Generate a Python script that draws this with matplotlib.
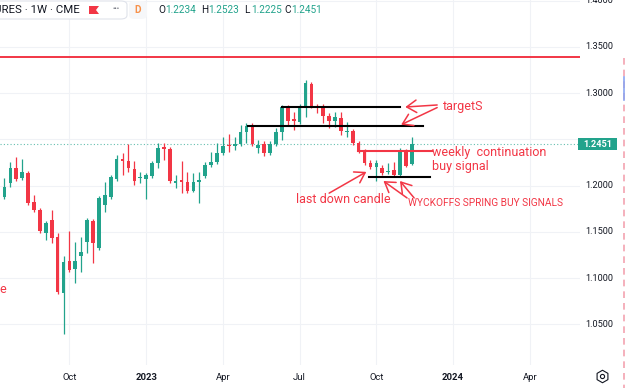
import matplotlib
matplotlib.use("Agg")
import matplotlib.pyplot as plt
from matplotlib.lines import Line2D
from matplotlib.patches import FancyBboxPatch, Polygon, Rectangle
from matplotlib.transforms import blended_transform_factory
import pandas as pd

plt.rcParams["font.family"] = ["Roboto", "DejaVu Sans"]

# weekly candles, British Pound futures (CME)
first_week = "2022-07-11"
opens = [1.2041, 1.1879, 1.2030, 1.2192, 1.2084, 1.2138, 1.1824, 1.1738, 1.1489, 1.1630,
         1.1446, 1.0841, 1.1187, 1.1100, 1.1241, 1.1392, 1.1619, 1.1327, 1.1792, 1.1879,
         1.2073, 1.2289, 1.2268, 1.2181, 1.2084, 1.2073, 1.2106, 1.2246, 1.2419, 1.2397,
         1.2030, 1.2062, 1.2041, 1.1943, 1.2041, 1.2106, 1.2224, 1.2257, 1.2354, 1.2440,
         1.2430, 1.2451, 1.2581, 1.2646, 1.2408, 1.2451, 1.2354, 1.2451, 1.2581, 1.2851,
         1.2722, 1.2689, 1.2851, 1.3100, 1.2851, 1.2851, 1.2754, 1.2700, 1.2733, 1.2581,
         1.2592, 1.2462, 1.2387, 1.2246, 1.2203, 1.2192, 1.2149, 1.2170, 1.2116, 1.2376,
         1.2234]
highs = [1.2084, 1.2084, 1.2257, 1.2311, 1.2289, 1.2159, 1.1900, 1.1760, 1.1619, 1.1738,
         1.1489, 1.1241, 1.1511, 1.1392, 1.1446, 1.1652, 1.1641, 1.1889, 1.2041, 1.2116,
         1.2333, 1.2354, 1.2451, 1.2268, 1.2149, 1.2138, 1.2268, 1.2462, 1.2462, 1.2419,
         1.2116, 1.2268, 1.2149, 1.2138, 1.2149, 1.2257, 1.2365, 1.2462, 1.2527, 1.2560,
         1.2527, 1.2657, 1.2678, 1.2678, 1.2495, 1.2484, 1.2484, 1.2624, 1.2873, 1.2873,
         1.2797, 1.2884, 1.3143, 1.3122, 1.2884, 1.2884, 1.2787, 1.2797, 1.2797, 1.2689,
         1.2614, 1.2484, 1.2397, 1.2278, 1.2278, 1.2224, 1.2246, 1.2257, 1.2408, 1.2397,
         1.2523]
lows = [1.1857, 1.1860, 1.1987, 1.2051, 1.2062, 1.1792, 1.1716, 1.1489, 1.1414, 1.1381,
        1.0830, 1.0398, 1.1068, 1.0949, 1.1068, 1.1273, 1.1165, 1.1306, 1.1716, 1.1857,
        1.2051, 1.2116, 1.2149, 1.2008, 1.2030, 1.1857, 1.2084, 1.2192, 1.2278, 1.2030,
        1.1976, 1.1922, 1.1922, 1.1933, 1.1814, 1.2084, 1.2203, 1.2235, 1.2333, 1.2365,
        1.2387, 1.2430, 1.2462, 1.2430, 1.2354, 1.2322, 1.2333, 1.2430, 1.2495, 1.2657,
        1.2603, 1.2668, 1.2743, 1.2840, 1.2787, 1.2678, 1.2624, 1.2635, 1.2549, 1.2527,
        1.2441, 1.2354, 1.2224, 1.2181, 1.2051, 1.2116, 1.2127, 1.2095, 1.2095, 1.2203,
        1.2225]
closes = [1.1879, 1.1987, 1.2192, 1.2073, 1.2149, 1.1814, 1.1738, 1.1511, 1.1597, 1.1436,
          1.0852, 1.1176, 1.1089, 1.1187, 1.1284, 1.1630, 1.1381, 1.1868, 1.1900, 1.2095,
          1.2289, 1.2268, 1.2192, 1.2051, 1.2095, 1.2116, 1.2246, 1.2408, 1.2397, 1.2051,
          1.2051, 1.2041, 1.1943, 1.2041, 1.2062, 1.2224, 1.2257, 1.2354, 1.2430, 1.2430,
          1.2451, 1.2581, 1.2646, 1.2451, 1.2440, 1.2354, 1.2451, 1.2581, 1.2851, 1.2700,
          1.2700, 1.2851, 1.3111, 1.2862, 1.2846, 1.2754, 1.2700, 1.2743, 1.2592, 1.2592,
          1.2462, 1.2376, 1.2246, 1.2203, 1.2246, 1.2138, 1.2159, 1.2116, 1.2387, 1.2214,
          1.2451]

price_levels = [1.05, 1.10, 1.15, 1.20, 1.25, 1.30, 1.35, 1.40]
tick_months = ["2022-10", "2023-01", "2023-04", "2023-07", "2023-10", "2024-01", "2024-04"]
tick_labels = ["Oct", "2023", "Apr", "Jul", "Oct", "2024", "Apr"]

# drawn levels (price, first week index, last week index)
target_top = (1.2851, 48.0, 68.0)
target_low = (1.2641, 42.3, 71.9)
continuation = (1.2376, 60.9, 73.5)
spring_low = (1.2095, 62.8, 73.1)
red_level = 1.3390

UP = "#22a38c"
DOWN = "#f23645"
TXT = "#131722"
GRID = "#f0f2f6"

W, H = 625, 388


def fx(px):
    return px / W


def fy(py):
    return 1 - py / H


weeks = pd.date_range(first_week, periods=110, freq="W-MON")

fig = plt.figure(figsize=(W / 100, H / 100), dpi=100)
ax = fig.add_axes([0, fy(365), fx(580), 365 / H])
ax.set_xlim(0.24, 98.5)
ax.set_ylim(1.0062, 1.4008)
ax.axis("off")

# grid
for lvl in price_levels:
    ax.axhline(lvl, color=GRID, lw=0.8, zorder=0)
tick_idx = []
for m in tick_months:
    idx = int(((weeks.strftime("%Y-%m") == m)).argmax())
    tick_idx.append(idx)
    ax.axvline(idx, color=GRID, lw=0.8, zorder=0)

# candles
for i, (o, h, l, c) in enumerate(zip(opens, highs, lows, closes)):
    col = UP if c >= o else DOWN
    ax.vlines(i, l, h, color=col, lw=0.9, zorder=2)
    bottom = min(o, c)
    height = max(abs(c - o), 0.0011)
    ax.add_patch(Rectangle((i - 0.31, bottom), 0.62, height, facecolor=col,
                           edgecolor="none", zorder=3))

# last price line
ax.axhline(closes[-1], color=UP, lw=0.8, ls=(0, (1, 2)), alpha=0.7, zorder=1)

# drawings
ax.axhline(red_level, color=DOWN, lw=1.4, zorder=4)
for lvl, x0, x1 in (target_top, target_low, spring_low):
    ax.plot([x0, x1], [lvl, lvl], color="black", lw=1.5, zorder=4)
ax.plot([continuation[1], continuation[2]], [continuation[0]] * 2, color=DOWN, lw=1.5, zorder=4)

arrow = dict(arrowstyle="->,head_length=0.7,head_width=0.45", color=DOWN, lw=1.1,
             shrinkA=0, shrinkB=0)
arrows = [
    ((74.3, 1.2873), (68.9, 1.2851)),
    ((74.3, 1.2845), (68.2, 1.2660)),
    ((56.0, 1.1920), (62.3, 1.2150)),
    ((69.2, 1.1868), (65.2, 1.2051)),
    ((70.4, 1.1868), (68.0, 1.2051)),
]
for tail, tip in arrows:
    ax.annotate("", xy=tip, xytext=tail, arrowprops=arrow, zorder=5)

note = dict(color=DOWN, fontsize=9, va="center", ha="left", zorder=6)
ax.text(75.3, 1.2862, "targetS", **note)
ax.text(73.5, 1.2354, "weekly  continuation", **note)
ax.text(73.5, 1.2203, "buy signal", **note)
ax.text(50.4, 1.1846, "last down candle", **note)
ax.text(69.4, 1.1814, "WYCKOFFS SPRING BUY SIGNALS", color=DOWN, fontsize=7.3,
        va="center", ha="left", zorder=6)
ax.text(1.2, 1.0873, "e", color=DOWN, fontsize=9, va="center", ha="right", zorder=6)

# price scale (1.2500 sits under the last-price tag)
ptrans = blended_transform_factory(fig.transFigure, ax.transData)
for lvl in price_levels:
    if abs(lvl - closes[-1]) < 0.01:
        continue
    fig.text(fx(585), lvl, f"{lvl:.4f}", transform=ptrans, fontsize=6.6,
             color=TXT, va="center", ha="left")
fig.patches.append(Rectangle((fx(578), closes[-1] - 0.0068), fx(39), 0.0136,
                             transform=ptrans, facecolor=UP, edgecolor="none"))
fig.text(fx(597.5), closes[-1], f"{closes[-1]:.4f}", transform=ptrans, fontsize=6.6,
         color="white", va="center", ha="center", fontweight="bold", zorder=10)

# time scale
ttrans = blended_transform_factory(ax.transData, fig.transFigure)
for idx, lab in zip(tick_idx, tick_labels):
    bold = lab.isdigit()
    fig.text(idx, fy(378), lab, transform=ttrans, fontsize=6.8, color=TXT,
             ha="center", va="center", fontweight="bold" if bold else "normal")

# settings icon
fig.add_artist(Line2D([fx(602)], [fy(376)], transform=fig.transFigure, marker="h",
                      ms=9, mfc="none", mec=TXT, mew=0.8))
fig.add_artist(Line2D([fx(602)], [fy(376)], transform=fig.transFigure, marker="o",
                      ms=3, mfc="none", mec=TXT, mew=0.8))

# right edge markers
fig.add_artist(Line2D([fx(623.5)] * 2, [fy(58), 0], transform=fig.transFigure,
                      color="#f4a3b0", lw=1.2, ls=(0, (4, 3))))
fig.add_artist(Line2D([fx(623.5)] * 2, [fy(77), fy(100)], transform=fig.transFigure,
                      color="#8aa5f2", lw=1.2))

# header
fig.patches.append(FancyBboxPatch((fx(-6), fy(19)), fx(133), 18 / H,
                                  boxstyle="round,pad=0,rounding_size=0.01",
                                  transform=fig.transFigure, facecolor="white",
                                  edgecolor="#e0e3eb", lw=0.8))
fig.text(fx(80), fy(10), "BRITISH POUND FUTURES · 1W · CME", fontsize=8.2, color=TXT,
         ha="right", va="center")
fig.patches.append(Polygon([(fx(89), fy(6)), (fx(99), fy(6)), (fx(96), fy(10)),
                            (fx(99), fy(14)), (fx(89), fy(14))],
                           transform=fig.transFigure, facecolor=DOWN, edgecolor="none"))
fig.text(fx(116.5), fy(9.5), "•••", fontsize=5, color="#6a6d78", ha="center", va="center")
fig.patches.append(FancyBboxPatch((fx(129), fy(19)), fx(18), 18 / H,
                                  boxstyle="round,pad=0,rounding_size=0.01",
                                  transform=fig.transFigure, facecolor="#f6f7f9",
                                  edgecolor="none"))
fig.text(fx(138), fy(10), "D", fontsize=7.2, color="#f7914a", fontweight="bold",
         ha="center", va="center")

ohlc = [("O", opens[-1], 158), ("H", highs[-1], 201), ("L", lows[-1], 244),
        ("C", closes[-1], 284)]
for letter, val, px in ohlc:
    fig.text(fx(px), fy(10), letter, fontsize=7.2, color=TXT, ha="left", va="center")
    fig.text(fx(px + 7.5), fy(10), f"{val:.4f}", fontsize=7.2, color=UP,
             ha="left", va="center")

fig.savefig("out.png", dpi=100)
